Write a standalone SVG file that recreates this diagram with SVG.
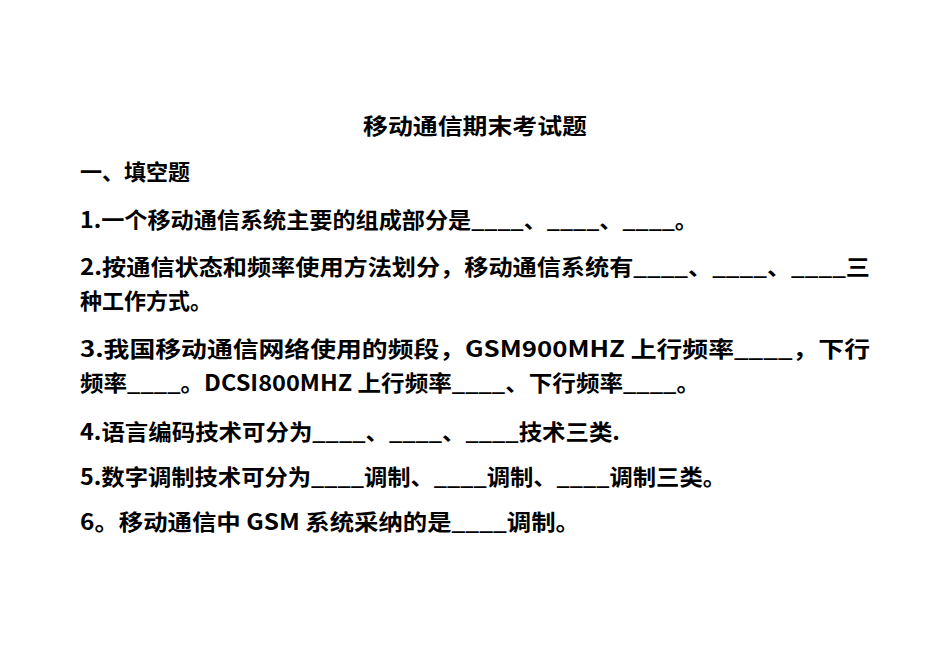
<svg xmlns="http://www.w3.org/2000/svg" width="950" height="671" viewBox="0 0 950 671">
<style>
text{font-family:"Noto Sans CJK SC","Noto Sans",sans-serif;font-weight:bold;fill:#000;font-size:22px}
.t{font-size:22px}
</style>
<rect width="950" height="671" fill="#fff"/>
<g id="doc">
<text class="t" x="363" y="134" textLength="224" lengthAdjust="spacingAndGlyphs">移动通信期末考试题</text>
<text x="80" y="180">一、填空题</text>
<text x="80" y="228" textLength="618" lengthAdjust="spacingAndGlyphs">1.一个移动通信系统主要的组成部分是____、____、____。</text>
<text x="80" y="275" textLength="790" lengthAdjust="spacingAndGlyphs">2.按通信状态和频率使用方法划分，移动通信系统有____、____、____三</text>
<text x="80" y="309">种工作方式。</text>
<text x="80" y="357" textLength="790" lengthAdjust="spacingAndGlyphs">3.我国移动通信网络使用的频段，GSM900MHZ 上行频率____，下行</text>
<text x="80" y="391" textLength="620" lengthAdjust="spacingAndGlyphs">频率____。DCSI800MHZ 上行频率____、下行频率____。</text>
<text x="80" y="440" textLength="540" lengthAdjust="spacingAndGlyphs">4.语言编码技术可分为____、____、____技术三类.</text>
<text x="80" y="485" textLength="646" lengthAdjust="spacingAndGlyphs">5.数字调制技术可分为____调制、____调制、____调制三类。</text>
<text x="80" y="530" textLength="500" lengthAdjust="spacingAndGlyphs">6。移动通信中 GSM 系统采纳的是____调制。</text>
</g>
</svg>
